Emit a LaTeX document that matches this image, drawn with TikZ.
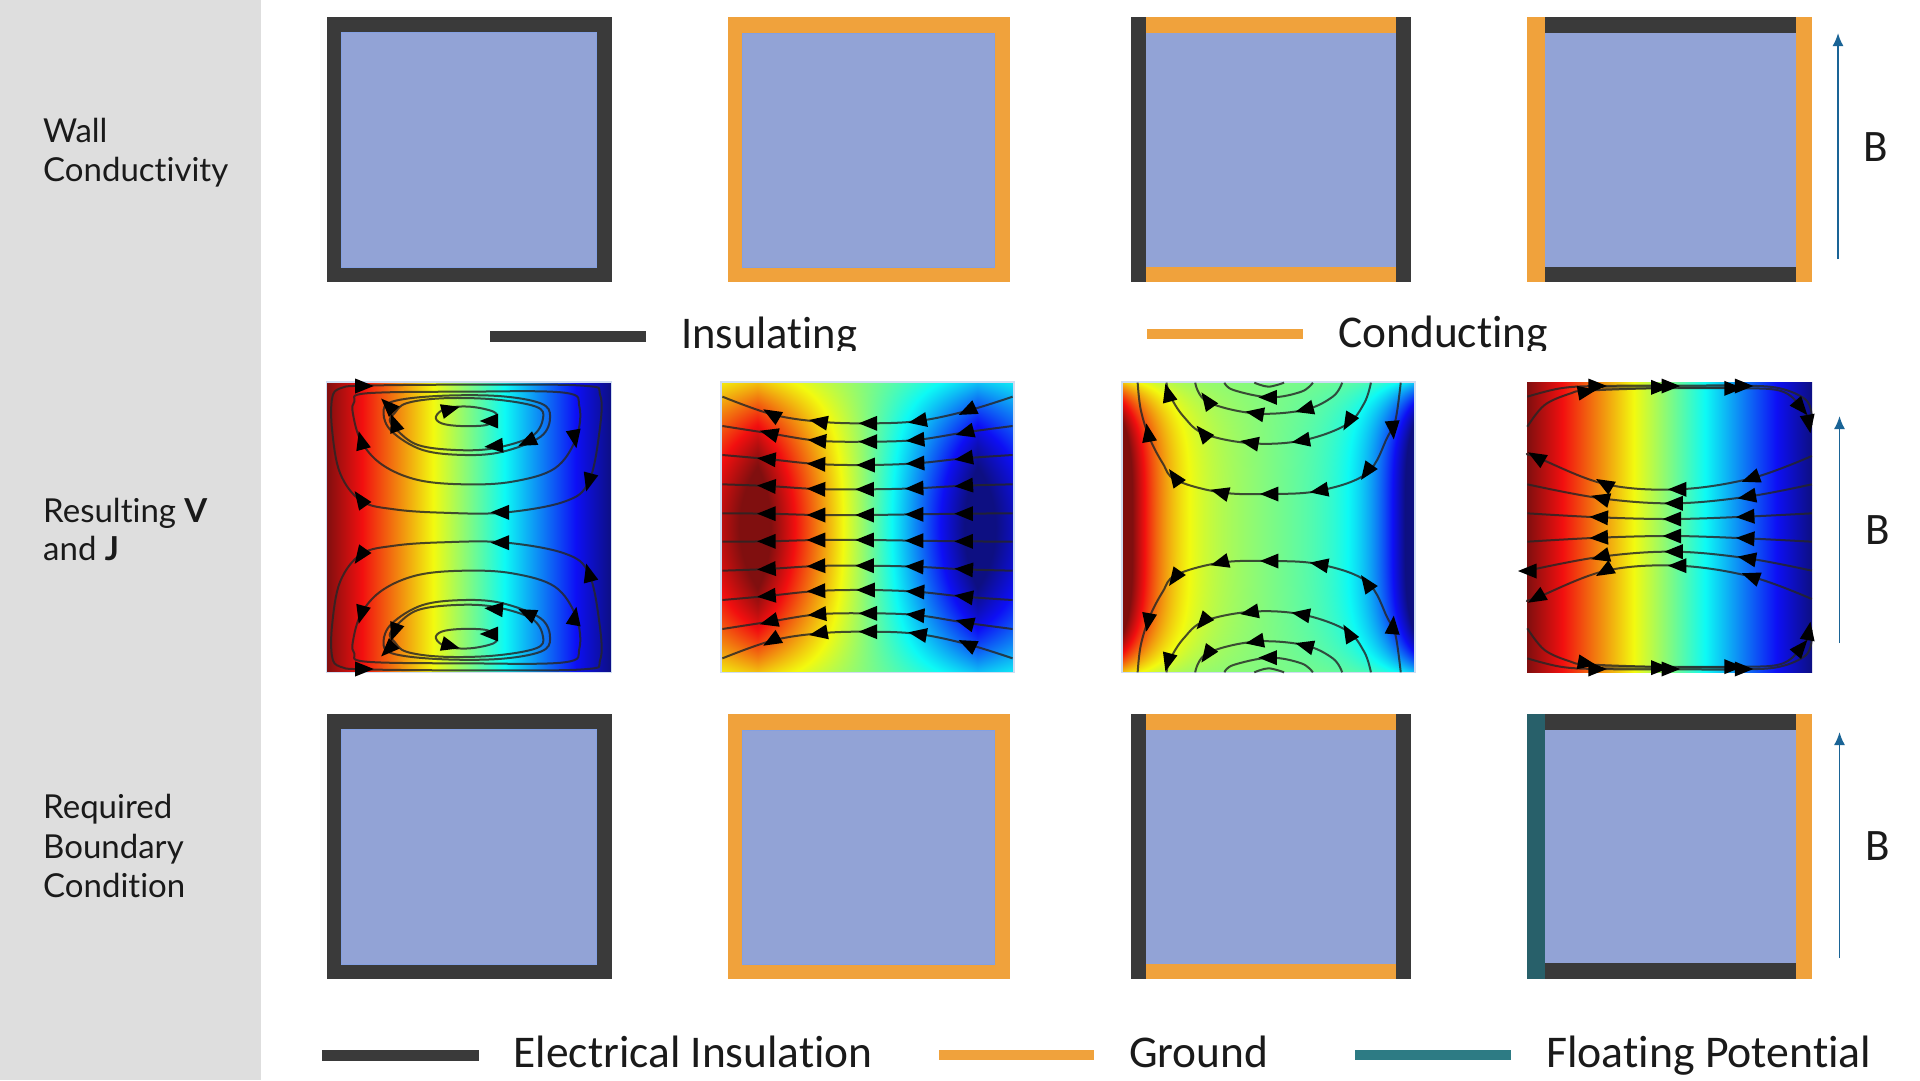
\documentclass[tikz,border=0pt]{standalone}
\usepackage{fontspec}
\setmainfont{Lato}[Ligatures=NoCommon]
\newfontfamily\legfam{Carlito}[Ligatures=NoCommon]
\usetikzlibrary{arrows.meta}
\definecolor{panel}{HTML}{DEDEDE}
\definecolor{wdark}{HTML}{3A3A3A}
\definecolor{worange}{HTML}{F0A23C}
\definecolor{wteal}{HTML}{28606A}
\definecolor{lteal}{HTML}{2D7B84}
\definecolor{fluid}{HTML}{92A3D6}
\definecolor{fluidedge}{HTML}{84A0E2}
\definecolor{bblue}{HTML}{1A6496}
\definecolor{halo}{HTML}{CFDDF2}
\definecolor{inkc}{HTML}{1A1A1A}
% jet colour map, softened a little: value on the stack, r g b left on it
\def\jetps{dup 1 gt {pop 1} if dup 0 lt {pop 0} if dup 4 mul 3 sub abs 1.5 exch sub dup 1 gt {pop 1} if dup 0 lt {pop 0} if 0.9 mul 0.05 add exch dup 4 mul 2 sub abs 1.5 exch sub dup 1 gt {pop 1} if dup 0 lt {pop 0} if 0.92 mul 0.06 add exch 4 mul 1 sub abs 1.5 exch sub dup 1 gt {pop 1} if dup 0 lt {pop 0} if 0.9 mul 0.06 add}
\pgfdeclarefunctionalshading{hmA}{\pgfpoint{0bp}{0bp}}{\pgfpoint{100bp}{100bp}}{}{pop 25 sub 50 div 1 exch sub \jetps}
\pgfdeclarefunctionalshading{hmB}{\pgfpoint{0bp}{0bp}}{\pgfpoint{100bp}{100bp}}{}{50 sub 25 div dup mul 0.73 mul 1.08 exch sub exch 50 sub 25 div dup abs dup 0.75 gt {0.75 sub neg 1.05 add} {1.4 mul} ifelse exch 0 gt {neg} if mul 0.5 mul 0.5 add \jetps}
\pgfdeclarefunctionalshading{hmC}{\pgfpoint{0bp}{0bp}}{\pgfpoint{100bp}{100bp}}{}{50 sub 25 div dup mul dup mul 0.75 mul 1.05 exch sub exch 50 sub 25 div dup abs dup dup mul dup mul 0.9 mul exch 0.3 mul add exch 0 gt {neg} if mul 0.5 mul 0.5 add \jetps}
\tikzset{
 sl/.style={draw=black!85,line width=2pt,opacity=.82},
 lab/.style={anchor=base west,inner sep=0pt,text=inkc,font=\fontsize{33}{39}\selectfont},
 leg/.style={anchor=base west,inner sep=0pt,text=inkc,font=\legfam\fontsize{45.4}{50}\selectfont},
 bfield/.style={draw=bblue,line width=1.8pt,-{Latex[length=13pt,width=11pt]}},
 bl/.style={anchor=center,inner sep=0pt,text=inkc,font=\legfam\fontsize{45}{50}\selectfont},
 hmedge/.style={draw=halo,line width=1.5pt},
}
\newcommand\tri[3]{\coordinate (tp) at (#1,#2);\fill[black,shift={(tp)},rotate=\m*(#3),x=1pt,y=1pt] (10,0)--(-8.5,7.5)--(-8.5,-7.5)--cycle;}
\begin{document}
\begin{tikzpicture}[x=1pt,y=-1pt]
\useasboundingbox (0,0) rectangle (1920,1080);
\fill[white] (0,0) rectangle (1920,1080);
\fill[panel] (0,0) rectangle (261,1080);
% side labels
\node[lab] (l1a) at (43,142.3) {Wall};
\node[lab] (l1b) at (43,181.2) {Conductivity};
\node[lab] (l2a) at (43,522.2) {Resulting \textbf{V}};
\node[lab] (l2b) at (43,560.5) {and \textbf{J}};
\node[lab] (l3a) at (43,818.5) {Required};
\node[lab] (l3b) at (43,858.5) {Boundary};
\node[lab] (l3c) at (43,897.5) {Condition};
% wall rows
\foreach \dy in {0,697}{
 \begin{scope}[yshift=-\dy pt]
 \fill[wdark] (327,17.3) rectangle (611.5,282.3);
 \fill[fluid,draw=fluidedge,line width=1.2pt] (341.5,32.5) rectangle (596.5,267.5);
 \fill[worange] (727.5,17.3) rectangle (1010,282.3);
 \fill[fluid,draw=fluidedge,line width=.8pt] (742,33) rectangle (994,267);
 \fill[worange] (1131.4,17.3) rectangle (1410.7,282.3);
 \fill[wdark] (1131.4,17.3) rectangle (1146,282.3);
 \fill[wdark] (1396,17.3) rectangle (1410.7,282.3);
 \fill[fluid] (1146,33) rectangle (1396,267);
 \fill[wdark] (1527,17.3) rectangle (1812,282.3);
 \end{scope}
}
\fill[worange] (1527,17.3) rectangle (1544.5,282.3);
\fill[worange] (1795.6,17.3) rectangle (1812,282.3);
\fill[fluid] (1544.5,32.5) rectangle (1795.6,266.5);
\fill[wteal] (1527,714.3) rectangle (1544.5,979.3);
\fill[worange] (1795.6,714.3) rectangle (1812,979.3);
\fill[fluid] (1544.5,730) rectangle (1795.6,963);
% heat maps
\shade[shading=hmA] (326.4,382) rectangle (611.5,672.7);
\shade[shading=hmB] (721,382) rectangle (1014,672.7);
\shade[shading=hmC] (1122,382) rectangle (1415,672.7);
\shade[shading=hmA] (1527,382) rectangle (1812,672.7);
\draw[hmedge] (326.4,382) rectangle (611.5,672.7);
\draw[hmedge] (721,382) rectangle (1014,672.7);
\draw[hmedge] (1122,382) rectangle (1415,672.7);
% streamlines, entered in crop coordinates and mirrored about the mid line
\foreach \m in {1,-1}{
 \pgfmathsetmacro\oy{\m==1?370:685}
 \pgfmathsetmacro\yv{\m*(-0.33333)}
 \begin{scope}[shift={(300,\oy)},x=0.47192pt,y=\yv pt]
  \draw[sl] plot[smooth cycle,tension=.6] coordinates {(135,47)(350,44)(600,47)(636,75)(635,180)(612,335)(560,395)(430,428)(300,428)(200,418)(130,393)(85,310)(68,180)(68,85)(85,55)};
  \draw[sl] plot[smooth cycle,tension=.6] coordinates {(140,70)(350,65)(560,68)(592,110)(585,205)(540,295)(450,335)(350,343)(250,330)(175,285)(130,215)(112,130)(115,95)};
  \draw[sl] plot[smooth cycle,tension=.6] coordinates {(177,130)(195,95)(290,78)(420,78)(510,100)(530,140)(510,200)(430,245)(350,255)(260,240)(195,185)};
  \draw[sl] plot[smooth cycle,tension=.6] coordinates {(200,130)(225,100)(300,85)(410,88)(500,110)(515,145)(490,200)(410,235)(330,240)(250,225)(205,180)(190,150)};
  \draw[sl] plot[smooth cycle,tension=.6] coordinates {(288,140)(310,115)(360,110)(410,125)(415,145)(395,165)(340,168)(300,160)};
  \foreach \a/\b/\c in {135/48/0,130/213/105,582/205/-80,612/335/-105,128/388/125,425/427/180,187/107/135,200/160/110,412/228/185,482/215/205,318/118/15,402/153/180}{\tri{\a}{\b}{\c}}
  % second map
  \draw[sl] plot[smooth,tension=.6] coordinates {(895,80)(1000,133)(1100,155)(1205,160)(1310,153)(1415,122)(1510,80)};
  \draw[sl] plot[smooth,tension=.6] coordinates {(895,168)(995,190)(1097,212)(1205,215)(1305,210)(1410,187)(1510,168)};
  \draw[sl] plot[smooth,tension=.6] coordinates {(895,255)(990,267)(1095,282)(1200,285)(1305,280)(1408,265)(1510,255)};
  \draw[sl] plot[smooth,tension=.6] coordinates {(895,343)(990,348)(1095,357)(1198,358)(1303,355)(1408,347)(1510,343)};
  \draw[sl] plot[smooth,tension=.6] coordinates {(895,430)(990,431)(1095,435)(1198,435)(1303,433)(1408,431)(1510,430)};
  \foreach \a/\b/\c in {1000/133/150,1100/155/170,1205/160/180,1310/153/190,1415/122/205,
   995/190/165,1097/212/175,1205/215/180,1305/210/185,1410/187/195,
   990/267/175,1095/282/178,1200/285/180,1305/280/182,1408/265/188,
   990/348/177,1095/357/178,1198/358/180,1303/355/182,1408/347/184,
   990/431/180,1095/435/180,1198/435/180,1303/433/180,1408/431/180}{\tri{\a}{\b}{\c}}
 \end{scope}
 \pgfmathsetmacro\xv{0.52301}
 \begin{scope}[shift={(1100,\oy)},x=\xv pt,y=\yv pt]
  % third map
  \draw[sl] plot[smooth,tension=.6] coordinates {(72,38)(78,120)(95,205)(120,280)(145,330)(230,367)(325,372)(420,362)(510,310)(550,200)(565,150)(575,38)};
  \draw[sl] plot[smooth,tension=.6] coordinates {(127,38)(135,80)(160,140)(200,192)(290,220)(385,212)(470,165)(505,100)(518,38)};
  \draw[sl] plot[smooth,tension=.6] coordinates {(182,38)(205,95)(295,130)(390,120)(445,80)(463,38)};
  \draw[sl] plot[smooth,tension=.6] coordinates {(238,38)(255,60)(325,82)(385,65)(407,38)};
  \draw[sl] plot[smooth,tension=.6] coordinates {(295,38)(322,50)(352,38)};
  \foreach \a/\b/\c in {92/190/100,143/322/125,230/367/165,325/372/180,420/362/190,510/305/235,560/178/-85,
   130/70/105,197/190/130,287/218/170,385/212/190,475/155/240,205/92/125,297/130/170,392/118/195,322/82/180}{\tri{\a}{\b}{\c}}
  % fourth map
  \draw[sl] plot[smooth,tension=.6] coordinates {(1361,258)(1245,325)(1105,358)(965,342)(835,262)(817,255)};
  \draw[sl] plot[smooth,tension=.6] coordinates {(1361,343)(1238,380)(1098,400)(958,385)(817,343)};
  \draw[sl] plot[smooth,tension=.6] coordinates {(1361,430)(1235,440)(1095,447)(955,442)(817,430)};
  \draw[sl] plot[smooth,tension=.6] coordinates {(817,170)(850,105)(900,70)(930,62)(1060,55)(1210,55)(1300,62)(1340,110)(1361,165)};
  \draw[sl] plot[smooth,tension=.6] coordinates {(817,80)(880,55)(950,48)(1090,47)(1230,47)(1300,55)(1350,90)(1361,140)};
  \draw[sl,line width=3pt,opacity=.5] (960,52) -- (1060,52);
  \draw[sl,line width=3pt,opacity=.5] (1105,52) -- (1200,52);
  \foreach \a/\b/\c in {1245/325/200,1105/358/180,965/342/150,835/262/150,
   1238/380/190,1098/400/180,958/385/165,1235/440/183,1095/447/180,955/442/177,
   950/48/0,1090/48/0,1230/48/0,930/65/10,1070/52/0,1210/55/0,1340/112/-50,1355/160/-80}{\tri{\a}{\b}{\c}}
 \end{scope}
}
% stray arrow on the lower part of the fourth map
\begin{scope}
 \def\m{1}
 \tri{1528}{571}{180}
\end{scope}
% field arrows
\coordinate (b1a) at (1838,259); \coordinate (b1b) at (1838,33);
\coordinate (b2a) at (1839.5,643); \coordinate (b2b) at (1839.5,416);
\coordinate (b3a) at (1839.5,958); \coordinate (b3b) at (1839.5,732);
\draw[bfield] (b1a) -- (b1b);
\draw[bfield] (b2a) -- (b2b);
\draw[bfield] (b3a) -- (b3b);
\node[bl] (bt1) at (1875.6,147) {B};
\node[bl] (bt2) at (1878,530) {B};
\node[bl] (bt3) at (1878,845.7) {B};
% upper legend
\fill[wdark] (490,331) rectangle (646,342);
\fill[worange] (1147,329) rectangle (1303,339);
\begin{scope}
 \clip (670,300) rectangle (900,350.3);
 \node[leg] (ti) at (681,348) {\scalebox{.98}[1]{Insulating}};
\end{scope}
\begin{scope}
 \clip (1320,300) rectangle (1580,350.6);
 \node[leg] (tc) at (1338,347) {Conducting};
\end{scope}
% lower legend
\fill[wdark] (322.4,1049.5) rectangle (478.6,1060.5);
\fill[worange] (939,1050) rectangle (1094,1060);
\fill[lteal] (1355,1050) rectangle (1510.6,1060);
\node[leg] (te) at (513.5,1067.5) {Electrical Insulation};
\node[leg] (tg) at (1129,1067.5) {Ground};
\node[leg] (tf) at (1546,1067.5) {\scalebox{1.008}[1]{Floating Potential}};
\end{tikzpicture}
\end{document}
